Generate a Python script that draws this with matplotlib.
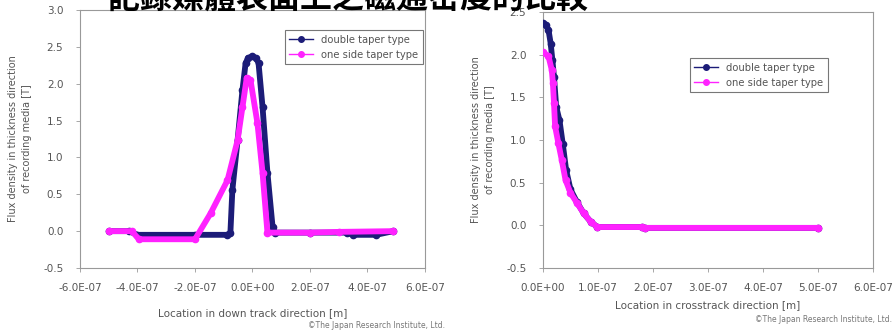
# flux density comparison on recording media surface, two panels
import matplotlib.pyplot as plt
from matplotlib.lines import Line2D

plt.rcParams['font.family'] = ['DejaVu Sans', 'Noto Sans CJK TC']

TITLE = '記錄媒體表面上之磁通密度的比較'
LABELS = ['double taper type', 'one side taper type']
NAVY = '#1c1c78'
PINK = '#ff22ff'

# down track direction (x in 1E-07 m)
dt_x = [-5.0, -4.3, -4.0, -2.0, -0.9, -0.77, -0.70, -0.52, -0.35, -0.24, -0.15, 0.0,
        0.12, 0.21, 0.35, 0.52, 0.70, 0.78, 2.0, 3.3, 3.5, 4.3, 4.9]
dt_y = [0.0, 0.0, -0.05, -0.05, -0.05, -0.03, 0.56, 1.23, 1.91, 2.28, 2.35, 2.37,
        2.35, 2.28, 1.68, 0.79, 0.05, -0.02, -0.02, -0.02, -0.05, -0.05, 0.0]
os_x = [-5.0, -4.2, -3.95, -2.0, -1.46, -0.87, -0.52, -0.35, -0.2, -0.07, 0.17, 0.35,
        0.52, 2.0, 3.0, 4.9]
os_y = [0.0, 0.0, -0.11, -0.11, 0.24, 0.69, 1.23, 1.68, 2.08, 2.05, 1.47, 0.79,
        -0.02, -0.02, -0.01, 0.0]

# crosstrack direction (x in 1E-07 m)
ct_dt_x = [0.0, 0.05, 0.1, 0.14, 0.17, 0.2, 0.24, 0.3, 0.36, 0.42, 0.5, 0.62, 0.74,
           0.87, 0.99, 1.8, 1.85, 5.0]
ct_dt_y = [2.37, 2.35, 2.29, 2.13, 1.94, 1.74, 1.39, 1.23, 0.95, 0.65, 0.42, 0.27,
           0.14, 0.04, -0.02, -0.02, -0.03, -0.03]
ct_os_x = [0.0, 0.1, 0.16, 0.18, 0.2, 0.22, 0.28, 0.34, 0.41, 0.5, 0.62, 0.74, 0.87,
           0.99, 1.8, 1.85, 5.0]
ct_os_y = [2.03, 1.98, 1.82, 1.67, 1.43, 1.16, 0.96, 0.77, 0.53, 0.38, 0.26, 0.14,
           0.04, -0.02, -0.02, -0.03, -0.03]

left_xticks = [-6, -4, -2, 0, 2, 4, 6]
left_xlabels = ['-6.0E-07', '-4.0E-07', '-2.0E-07', '0.0E+00', '2.0E-07', '4.0E-07', '6.0E-07']
right_xticks = [0, 1, 2, 3, 4, 5, 6]
right_xlabels = ['0.0E+00', '1.0E-07', '2.0E-07', '3.0E-07', '4.0E-07', '5.0E-07', '6.0E-07']
yticks = [-0.5, 0.0, 0.5, 1.0, 1.5, 2.0, 2.5, 3.0]

fig = plt.figure(figsize=(8.95, 3.31), dpi=100)
ax1 = fig.add_axes([80 / 895, 63 / 331, 345 / 895, 258 / 331])
ax2 = fig.add_axes([543 / 895, 63 / 331, 330 / 895, 256 / 331])

TXT = '#555555'


def style(ax):
    for s in ax.spines.values():
        s.set_color('#999999')
        s.set_linewidth(0.8)
    ax.tick_params(colors='#999999', labelcolor=TXT, labelsize=7.5, length=3, width=0.6)
    ax.tick_params(axis='x', pad=8)
    ax.tick_params(axis='y', pad=9)
    ax.set_ylabel('Flux density in thickness direction\nof recording media [T]',
                  fontsize=7, color=TXT, labelpad=8, linespacing=1.5)


def series(ax, x, y, color):
    xs = [v * 1e-7 for v in x]
    ax.plot(xs, y, color=color, lw=4.2, solid_joinstyle='round', solid_capstyle='round',
            marker='o', ms=4.5, zorder=3)


series(ax1, dt_x, dt_y, NAVY)
series(ax1, os_x, os_y, PINK)
ax1.set_xlim(-6e-7, 6e-7)
ax1.set_ylim(-0.5, 3.0)
ax1.set_xticks([v * 1e-7 for v in left_xticks])
ax1.set_xticklabels(left_xlabels)
ax1.set_yticks(yticks)
ax1.set_yticklabels([f'{v:.1f}' for v in yticks])
ax1.set_xlabel('Location in down track direction [m]', fontsize=7.5, color=TXT, labelpad=11)
style(ax1)

series(ax2, ct_dt_x, ct_dt_y, NAVY)
series(ax2, ct_os_x, ct_os_y, PINK)
ax2.set_xlim(0, 6e-7)
ax2.set_ylim(-0.5, 2.5)
ax2.set_xticks([v * 1e-7 for v in right_xticks])
ax2.set_xticklabels(right_xlabels)
ax2.set_yticks(yticks[:-1])
ax2.set_yticklabels([f'{v:.1f}' for v in yticks[:-1]])
ax2.set_xlabel('Location in crosstrack direction [m]', fontsize=7.5, color=TXT, labelpad=5)
style(ax2)

handles = [Line2D([], [], color=NAVY, lw=1, marker='o', ms=4),
           Line2D([], [], color=PINK, lw=1, marker='o', ms=4)]
for ax, anchor in [(ax1, (0.594, 0.922)), (ax2, (0.445, 0.82))]:
    leg = ax.legend(handles, LABELS, loc='upper left', bbox_to_anchor=anchor,
                    fontsize=7.2, frameon=True, fancybox=False, borderpad=0.45,
                    handlelength=2.4, labelspacing=0.5, borderaxespad=0)
    leg.get_frame().set_edgecolor('#555555')
    leg.get_frame().set_linewidth(0.8)
    for t in leg.get_texts():
        t.set_color(TXT)

fig.text(445 / 895, 1 - 325 / 331, '©The Japan Research Institute, Ltd.', fontsize=5.5,
         color='#777777', ha='right', va='center')
fig.text(892 / 895, 1 - 320 / 331, '©The Japan Research Institute, Ltd.', fontsize=5.5,
         color='#777777', ha='right', va='center')

fig.text(348 / 895, 1 - 9 / 331, TITLE, fontsize=23, fontweight='bold', color='black',
         ha='center', va='baseline', family=['Noto Sans CJK TC', 'DejaVu Sans'])

fig.savefig('out.png', dpi=100, facecolor='white')
